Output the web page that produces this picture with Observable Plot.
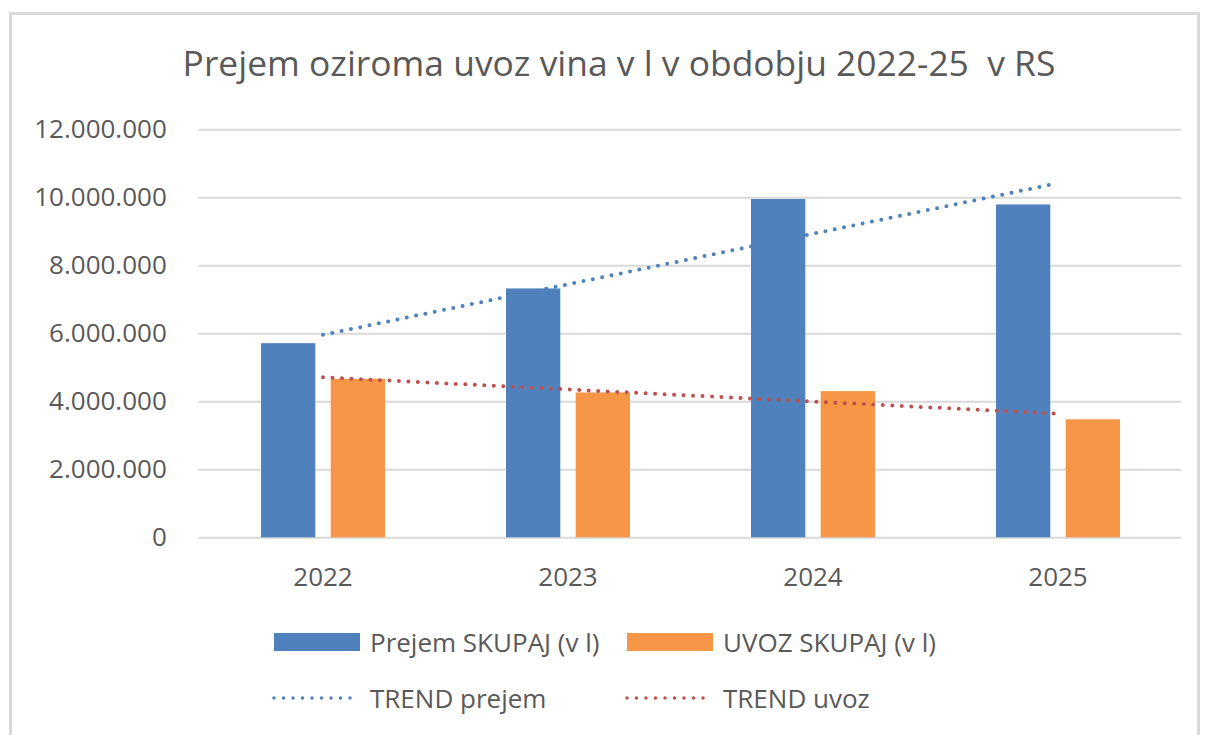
<!DOCTYPE html>
<html><head><meta charset="utf-8">
<script src="https://cdn.jsdelivr.net/npm/d3@7"></script>
<script src="https://cdn.jsdelivr.net/npm/@observablehq/plot@0.6"></script>
<style>
body{margin:0;background:#fff;}
#chart{position:relative;width:1206px;height:735px;overflow:hidden;font-family:"Open Sans",sans-serif;color:#595959;background:#fff;}
#frame{position:absolute;left:9px;top:12px;width:1191px;height:760px;border:3px solid #d9d9d9;box-sizing:border-box;}
#title{position:absolute;left:0;width:1238px;top:45px;text-align:center;font-size:35.4px;line-height:1;white-space:nowrap;}
#plot{position:absolute;left:0;top:110px;}
.leg{position:absolute;display:flex;align-items:center;font-size:26px;line-height:1;white-space:nowrap;height:30px;}
.sw{display:inline-block;width:86px;height:18px;margin-right:10px;}
.dl{margin-right:10px;}
</style></head>
<body>
<div id="chart">
  <div id="frame"></div>
  <div id="title">Prejem oziroma uvoz vina v l v obdobju 2022-25&nbsp; v RS</div>
  <div id="plot"></div>
  <div id="legend"></div>
</div>
<script>
const years = ["2022", "2023", "2024", "2025"];
const prejem = [5710000, 7320000, 9950000, 9790000];
const uvoz = [4660000, 4260000, 4300000, 3470000];
const trendYears = ["2022", "2025"];
const trendPrejem = [5970000, 10430000];
const trendUvoz = [4720000, 3650000];
const yTicks = [0, 2000000, 4000000, 6000000, 8000000, 10000000, 12000000];
const seriesNames = ["Prejem SKUPAJ (v l)", "UVOZ SKUPAJ (v l)", "TREND prejem", "TREND uvoz"];

const blue = "#4f81bd", orange = "#f79646", red = "#c0504d", grid = "#d9d9d9", ink = "#595959";
const fmt = d3.formatLocale({decimal: ",", thousands: ".", grouping: [3], currency: ["", " €"]}).format(",d");

const rows = years.map((y, i) => ({year: y, prejem: prejem[i], uvoz: uvoz[i]}));
const trendP = trendYears.map((y, i) => ({year: y, v: trendPrejem[i]}));
const trendU = trendYears.map((y, i) => ({year: y, v: trendUvoz[i]}));

const chart = Plot.plot({
  width: 1206,
  height: 500,
  marginTop: 19.3,
  marginBottom: 72.7,
  marginLeft: 198.3,
  marginRight: 25,
  x: {type: "band", domain: years, padding: 0},
  y: {domain: [0, 12000000]},
  style: {fontFamily: "'Open Sans', sans-serif", fontSize: "26px", color: ink, background: "transparent"},
  marks: [
    Plot.gridY(yTicks, {stroke: grid, strokeOpacity: 1, strokeWidth: 2}),
    Plot.barY(rows, {x: "year", y: "prejem", fill: blue, insetLeft: 61, insetRight: 129.7}),
    Plot.barY(rows, {x: "year", y: "uvoz", fill: orange, insetLeft: 130.7, insetRight: 60}),
    Plot.line(trendP, {x: "year", y: "v", stroke: blue, strokeWidth: 4, strokeDasharray: "0 9.5", strokeLinecap: "round"}),
    Plot.line(trendU, {x: "year", y: "v", stroke: red, strokeWidth: 4, strokeDasharray: "0 9.5", strokeLinecap: "round"}),
    Plot.axisY(yTicks, {tickSize: 0, tickPadding: 32, tickFormat: fmt, label: null, fill: ink, fontSize: 26}),
    Plot.axisX({tickSize: 0, tickPadding: 30, label: null, fill: ink, fontSize: 26})
  ]
});
document.getElementById("plot").appendChild(chart);

const legend = document.getElementById("legend");
const items = [
  {name: seriesNames[0], kind: "bar", color: blue, left: 274, top: 627},
  {name: seriesNames[1], kind: "bar", color: orange, left: 627, top: 627},
  {name: seriesNames[2], kind: "dot", color: blue, left: 272, top: 683},
  {name: seriesNames[3], kind: "dot", color: red, left: 625, top: 683}
];
for (const it of items) {
  const d = document.createElement("div");
  d.className = "leg";
  d.style.left = it.left + "px";
  d.style.top = it.top + "px";
  if (it.kind === "bar") {
    const s = document.createElement("span");
    s.className = "sw";
    s.style.background = it.color;
    d.appendChild(s);
  } else {
    const ns = "http://www.w3.org/2000/svg";
    const svg = document.createElementNS(ns, "svg");
    svg.setAttribute("width", 88);
    svg.setAttribute("height", 8);
    svg.setAttribute("class", "dl");
    const l = document.createElementNS(ns, "line");
    l.setAttribute("x1", 2); l.setAttribute("x2", 87);
    l.setAttribute("y1", 4); l.setAttribute("y2", 4);
    l.setAttribute("stroke", it.color);
    l.setAttribute("stroke-width", 3.5);
    l.setAttribute("stroke-dasharray", "0 9.5");
    l.setAttribute("stroke-linecap", "round");
    svg.appendChild(l);
    d.appendChild(svg);
  }
  const t = document.createElement("span");
  t.textContent = it.name;
  d.appendChild(t);
  legend.appendChild(d);
}
</script>
</body></html>
